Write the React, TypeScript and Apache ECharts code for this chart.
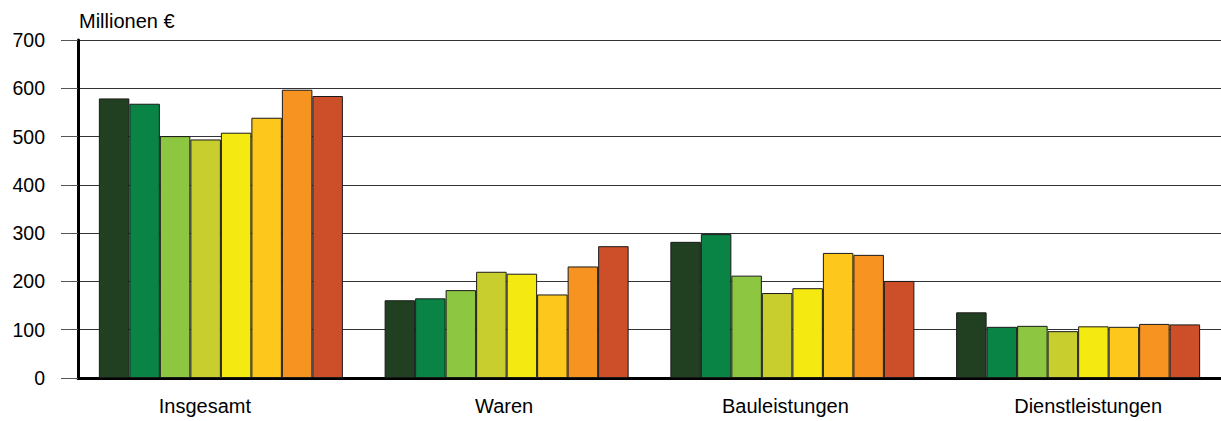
import React, { useEffect, useRef } from "react";
import * as echarts from "echarts";

const categories = ["Insgesamt", "Waren", "Bauleistungen", "Dienstleistungen"];
const seriesNames = ["2015", "2016", "2017", "2018", "2019", "2020", "2021", "2022"];
const seriesColors = ["#213f21", "#0a8444", "#8dc641", "#c8ce2e", "#f5e912", "#fdc81b", "#f79421", "#cc4f29"];
// values per series: [Insgesamt, Waren, Bauleistungen, Dienstleistungen]
const s1 = [579, 161, 282, 136];
const s2 = [568, 165, 298, 106];
const s3 = [501, 182, 212, 108];
const s4 = [494, 220, 176, 97];
const s5 = [508, 216, 186, 107];
const s6 = [539, 173, 259, 106];
const s7 = [597, 231, 255, 112];
const s8 = [584, 273, 201, 111];
const seriesValues = [s1, s2, s3, s4, s5, s6, s7, s8];
const yTicks = [0, 100, 200, 300, 400, 500, 600, 700];
const yTitle = "Millionen €";

export default function App() {
  const ref = useRef<HTMLDivElement>(null);
  useEffect(() => {
    if (!ref.current) return;
    const chart = echarts.init(ref.current, null, { renderer: "svg" });
    const font = "'Liberation Sans', Arial, sans-serif";
    // per-category label padding (shift) to mimic the reference placement
    const labelPads: Record<string, number[]> = {
      c0: [0, 32, 0, 0],
      c1: [0, 5, 0, 0],
      c2: [0, 14, 0, 0],
      c3: [0, 0, 0, 20],
    };
    const rich: Record<string, any> = {};
    Object.keys(labelPads).forEach((k) => {
      rich[k] = { padding: labelPads[k], fontSize: 20, color: "#000", fontFamily: font };
    });
    chart.setOption({
      animation: false,
      textStyle: { fontFamily: font },
      grid: { left: 78, right: 0, top: 40, bottom: 43, containLabel: false },
      title: {
        text: yTitle,
        left: 74,
        top: 6,
        textStyle: { fontFamily: font, fontSize: 20, fontWeight: "normal", color: "#000" },
      },
      xAxis: {
        type: "category",
        data: categories,
        axisLine: { show: true, lineStyle: { color: "#000", width: 3 } },
        axisTick: { show: false },
        axisLabel: {
          color: "#000",
          fontSize: 20,
          margin: 18,
          fontFamily: font,
          formatter: (v: string, idx: number) => `{c${idx}|${v}}`,
          rich,
        },
        splitLine: { show: false },
      },
      yAxis: {
        type: "value",
        min: yTicks[0],
        max: yTicks[yTicks.length - 1],
        interval: 100,
        axisLine: { show: true, lineStyle: { color: "#000", width: 3 } },
        axisTick: { show: true, length: 17, lineStyle: { color: "#555", width: 1 } },
        axisLabel: { color: "#000", fontSize: 19.5, margin: 33, fontFamily: font },
        splitLine: { show: true, lineStyle: { color: "#333", width: 1 } },
      },
      series: seriesNames.map((name, i) => ({
        name,
        type: "bar",
        data: seriesValues[i],
        barGap: "0%",
        barCategoryGap: "14.6%",
        itemStyle: { color: seriesColors[i], borderColor: "#1a1a1a", borderWidth: 1 },
      })),
    });
    return () => chart.dispose();
  }, []);
  return (
    <div
      ref={ref}
      style={{ position: "fixed", left: 0, top: 0, width: 1221, height: 421, background: "#fff" }}
    />
  );
}
